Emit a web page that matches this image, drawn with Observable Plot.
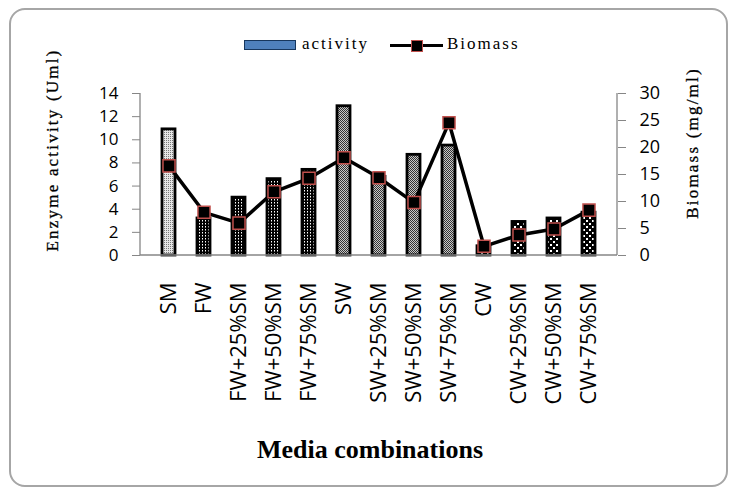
<!DOCTYPE html>
<html><head><meta charset="utf-8">
<script src="https://cdn.jsdelivr.net/npm/d3@7"></script>
<script src="https://cdn.jsdelivr.net/npm/@observablehq/plot@0.6"></script>
<style>
body{margin:0;background:#fff;}
#wrap{position:relative;width:734px;height:495px;overflow:hidden;background:#fff;}
#frame{position:absolute;left:9px;top:8px;width:715px;height:475px;border:2px solid #a6a6a6;border-radius:16px;}
#chart{position:absolute;left:0;top:0;}
.serif{position:absolute;font-family:"Liberation Serif","DejaVu Serif",serif;color:#000;white-space:nowrap;}
.ytitle{font-size:17px;letter-spacing:2.2px;transform:translate(-50%,-50%) rotate(-90deg);-webkit-text-stroke:0.3px #000;}
#xtitle{left:370px;top:450px;transform:translate(-50%,-50%);font-size:26px;font-weight:bold;}
.leg{font-size:17px;letter-spacing:2px;top:34px;}
#legRect{position:absolute;left:244px;top:40px;width:50px;height:8px;background:#4F81BD;border:1.5px solid #17375E;}
#legLine{position:absolute;left:390px;top:44px;width:53px;height:3px;background:#000;}
#legMark{position:absolute;left:411px;top:39.5px;width:10px;height:10px;background:#000;border:1.2px solid #C0504D;}
</style>
</head><body>
<div id="wrap">
  <div id="frame"></div>
  <div id="chart"></div>
  <div id="legRect"></div>
  <div class="serif leg" style="left:302px;">activity</div>
  <div id="legLine"></div>
  <div id="legMark"></div>
  <div class="serif leg" style="left:447px;">Biomass</div>
  <div class="serif ytitle" style="left:53px;top:150px;">Enzyme activity (Uml)</div>
  <div class="serif ytitle" style="left:693px;top:143px;">Biomass (mg/ml)</div>
  <div class="serif" id="xtitle">Media combinations</div>
</div>
<script>
const categories = ["SM","FW","FW+25%SM","FW+50%SM","FW+75%SM","SW","SW+25%SM","SW+50%SM","SW+75%SM","CW","CW+25%SM","CW+50%SM","CW+75%SM"];
const activity = [10.9, 3.2, 5.0, 6.6, 7.4, 12.9, 6.8, 8.7, 9.5, 0.8, 2.9, 3.2, 3.7];
const biomass = [16.6, 8.0, 6.0, 11.8, 14.3, 18.1, 14.4, 9.8, 24.6, 1.7, 3.8, 4.9, 8.4];
const patternIds = ["pSM","pFW","pFW","pFW","pFW","pSW","pSW","pSW","pSW","pCW","pCW","pCW","pCW"];
const leftTicks = [0, 2, 4, 6, 8, 10, 12, 14];
const rightTicks = [0, 5, 10, 15, 20, 25, 30];
const leftMax = 14, rightMax = 30;
const ratio = leftMax / rightMax;

const data = categories.map((c, i) => ({c, a: activity[i], b: biomass[i] * ratio, p: `url(#${patternIds[i]})`}));

const axisLines = (index, scales, values, dim) => {
  const g = d3.create("svg:g").attr("stroke", "#868686").attr("stroke-width", 1.3);
  const x0 = dim.marginLeft, x1 = dim.width - dim.marginRight;
  const y0 = dim.marginTop, y1 = dim.height - dim.marginBottom;
  g.append("line").attr("x1", x0).attr("x2", x0).attr("y1", y0).attr("y2", y1);
  g.append("line").attr("x1", x1).attr("x2", x1).attr("y1", y0).attr("y2", y1);
  g.append("line").attr("x1", x0).attr("x2", x1).attr("y1", y1).attr("y2", y1);
  return g.node();
};

const svg = Plot.plot({
  width: 734, height: 495,
  marginLeft: 140, marginRight: 117, marginTop: 93, marginBottom: 240,
  x: {domain: categories, padding: 0.62, label: null},
  y: {domain: [0, leftMax], label: null},
  color: {type: "identity"},
  style: {fontFamily: "'Open Sans', sans-serif", color: "#000", background: "transparent", overflow: "visible"},
  marks: [
    Plot.barY(data, {x: "c", y: "a", fill: "p", stroke: "#000", strokeWidth: 2.8}),
    axisLines,
    Plot.line(data, {x: "c", y: "b", stroke: "#000", strokeWidth: 3.5}),
    Plot.dot(data, {x: "c", y: "b", symbol: "square", r: 6.8, fill: "#000", stroke: "#C0504D", strokeWidth: 1.5}),
    Plot.axisY({anchor: "left", ticks: leftTicks, tickSize: 8, tickPadding: 14, stroke: "#868686", fill: "#000", fontSize: 17, label: null}),
    Plot.axisY({anchor: "right", ticks: rightTicks.map(v => v * ratio), tickFormat: d => String(Math.round(d / ratio)), tickSize: 8, tickPadding: 14, stroke: "#868686", fill: "#000", fontSize: 18, label: null}),
    Plot.axisX({anchor: "bottom", tickRotate: -90, tickSize: 0, tickPadding: 27, fontSize: 22, fill: "#000", label: null})
  ]
});

svg.insertAdjacentHTML("afterbegin", `<defs>
<pattern id="pSM" patternUnits="userSpaceOnUse" width="2" height="2"><rect width="2" height="2" fill="#e6e6e6"/><rect width="1" height="1" fill="#777"/></pattern>
<pattern id="pFW" patternUnits="userSpaceOnUse" width="3" height="3"><rect width="3" height="3" fill="#000"/><rect x="1" y="1" width="1" height="1.5" fill="#fff"/></pattern>
<pattern id="pSW" patternUnits="userSpaceOnUse" width="2" height="2"><rect width="2" height="2" fill="#c8c8c8"/><rect width="1" height="1" fill="#333"/><rect x="1" y="1" width="1" height="1" fill="#333"/></pattern>
<pattern id="pCW" patternUnits="userSpaceOnUse" width="6" height="6"><rect width="6" height="6" fill="#000"/><rect x="1" y="1" width="2" height="2" fill="#fff"/><rect x="4" y="4" width="2" height="2" fill="#fff"/></pattern>
</defs>`);
document.getElementById("chart").appendChild(svg);
</script>
</body></html>
